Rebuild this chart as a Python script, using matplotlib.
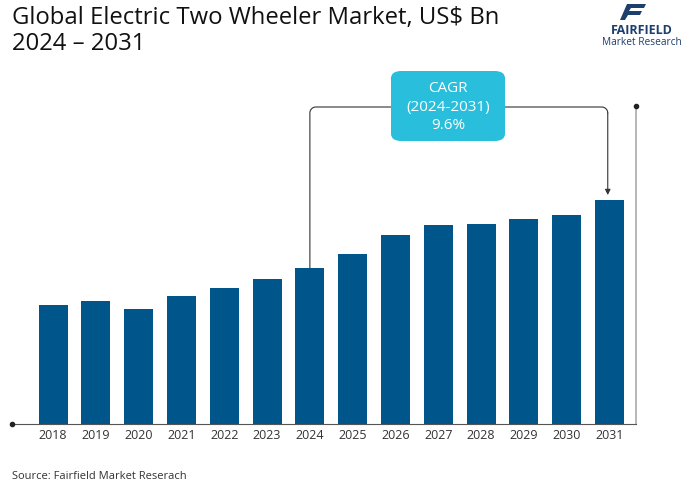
import numpy as np
import matplotlib.pyplot as plt
from matplotlib.patches import FancyBboxPatch, Polygon

years = ["2018", "2019", "2020", "2021", "2022", "2023", "2024",
         "2025", "2026", "2027", "2028", "2029", "2030", "2031"]
values = [119, 123, 115, 128, 136, 145, 156, 170, 189, 199, 200, 205, 209, 224]
cagr_label = "CAGR\n(2024-2031)\n9.6%"

W, H = 691, 485
fig = plt.figure(figsize=(W / 100, H / 100), dpi=100)
plt.rcParams['font.family'] = ['Open Sans', 'DejaVu Sans']

# axes box in pixels: left 12, right 636, bottom 425, top 107
ax = fig.add_axes([12 / W, 1 - 425 / H, (636 - 12) / W, (425 - 107) / H])
x = list(range(len(years)))
ax.bar(x, values, width=0.68, color="#00568a", zorder=2)
ax.set_xlim(-0.96, 13.62)
ax.set_ylim(0, 318)
ax.set_xticks(x)
ax.set_xticklabels(years, fontsize=9, color="#333333")
ax.tick_params(axis='x', length=0, pad=3)
ax.set_yticks([])
for s in ["top", "left"]:
    ax.spines[s].set_visible(False)
ax.spines["bottom"].set_color("#555555")
ax.spines["bottom"].set_linewidth(0.8)
ax.spines["right"].set_color("#aaaaaa")
ax.spines["right"].set_linewidth(1.2)
ax.plot([-0.96], [0], 'o', color="#222222", markersize=3, clip_on=False, zorder=5)
ax.plot([13.62], [318], 'o', color="#222222", markersize=3, clip_on=False, zorder=5)

# connector from 2024 bar to 2031 bar (1 px = 1 y unit, 42.8 px = 1 x unit)
i0, i1 = years.index("2024"), years.index("2031")
yline = 317
i1x = i1 - 0.04
rx, ry = 6 / 42.8, 6
t = np.linspace(0, np.pi / 2, 12)
lx = list(i0 + rx - rx * np.cos(t))
ly = list(yline - ry + ry * np.sin(t))
rxs = list(i1x - rx + rx * np.sin(t))
rys = list(yline - ry + ry * np.cos(t))
px = [i0] + lx + rxs
py = [values[i0]] + ly + rys
ax.plot(px, py, color="#333333", lw=0.8, clip_on=False, zorder=3)
ax.annotate("", xy=(i1x, values[i1] + 5), xytext=(i1x, yline - ry),
            arrowprops=dict(arrowstyle="-|>", color="#333333", lw=0.8,
                            mutation_scale=8, shrinkA=0, shrinkB=0),
            annotation_clip=False)

# CAGR box
bx0, by0, bw, bh = 391 / W, 1 - 142 / H, (505 - 391) / W, (142 - 72) / H
box = FancyBboxPatch((bx0, by0), bw, bh, boxstyle="round,pad=0,rounding_size=0.015",
                     transform=fig.transFigure, facecolor="#29bfdc", edgecolor="none",
                     zorder=10)
fig.patches.append(box)
fig.text(bx0 + bw / 2, by0 + bh / 2, cagr_label, ha="center", va="center",
         fontsize=11, color="white", linespacing=1.35, zorder=11)

# title
fig.text(12 / W, 1 - 6 / H, "Global Electric Two Wheeler Market, US$ Bn\n2024 \u2013 2031",
         ha="left", va="top", fontsize=17.2, color="#111111", linespacing=1.12)

# logo
logo = Polygon([[627 / W, 1 - 5 / H], [646 / W, 1 - 5 / H], [644 / W, 1 - 9 / H],
                [631 / W, 1 - 9 / H], [629 / W, 1 - 12 / H], [642 / W, 1 - 12 / H],
                [640 / W, 1 - 16 / H], [628 / W, 1 - 16 / H], [625 / W, 1 - 21 / H],
                [620 / W, 1 - 21 / H]], closed=True, transform=fig.transFigure,
               facecolor="#1d3f6e", edgecolor="none")
fig.patches.append(logo)
fig.text(642 / W, 1 - 31 / H, "FAIRFIELD", ha="center", va="center",
         fontsize=9, fontweight="bold", color="#1d3f6e")
fig.text(642 / W, 1 - 42.5 / H, "Market Research", ha="center", va="center",
         fontsize=7.3, color="#1d3f6e")

fig.text(12 / W, 1 - 477 / H, "Source: Fairfield Market Reserach", ha="left",
         va="center", fontsize=8, color="#333333")

fig.savefig("out.png", dpi=100)
